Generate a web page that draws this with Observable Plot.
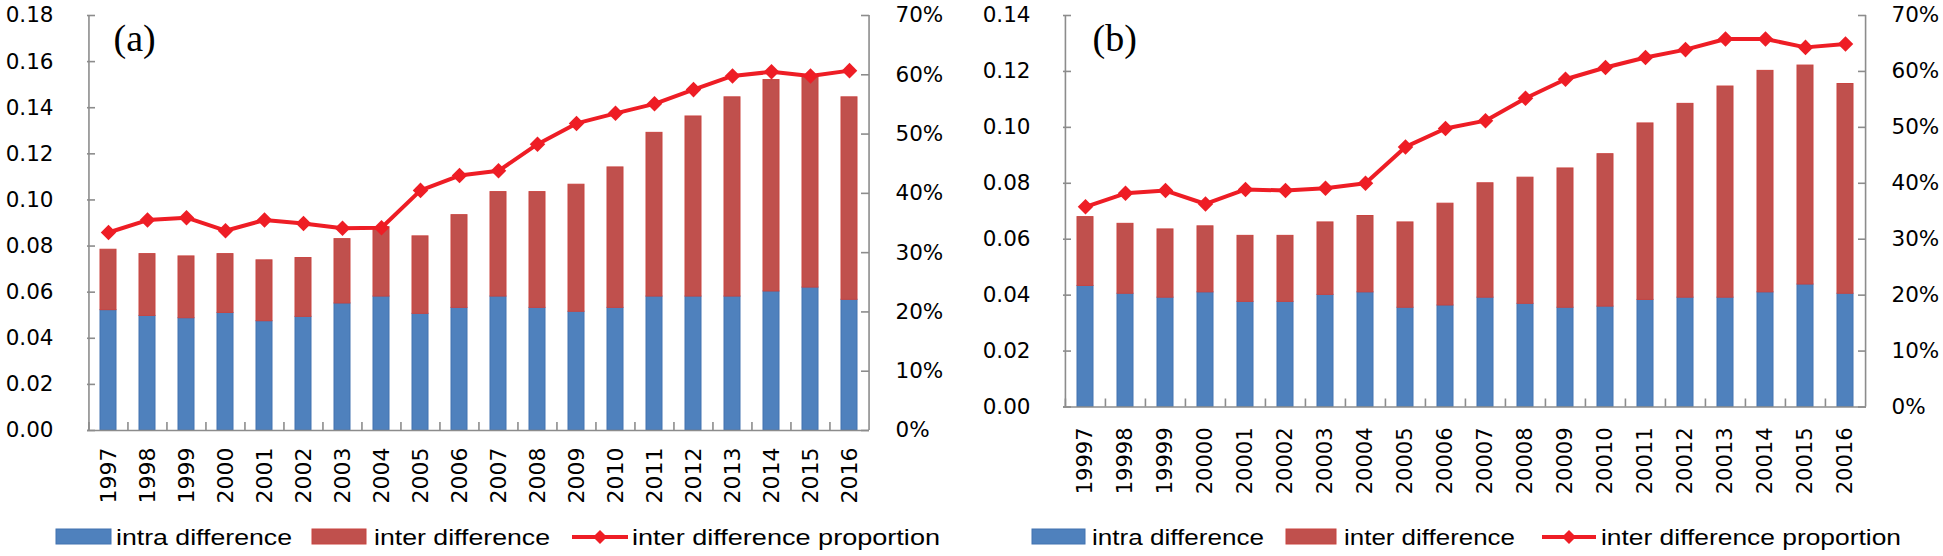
<!DOCTYPE html>
<html><head><meta charset="utf-8">
<script src="https://cdn.jsdelivr.net/npm/d3@7"></script>
<script src="https://cdn.jsdelivr.net/npm/@observablehq/plot@0.6"></script>
<style>
body{margin:0;background:#fff;}
#wrap{position:relative;width:1943px;height:556px;overflow:hidden;background:#fff;}
#wrap svg{position:absolute;top:0;}
</style></head><body><div id="wrap"></div>
<script>
// ---------- data ----------
const yearsA = ["1997","1998","1999","2000","2001","2002","2003","2004","2005","2006","2007","2008","2009","2010","2011","2012","2013","2014","2015","2016"];
const yearsB = ["19997","19998","19999","20000","20001","20002","20003","20004","20005","20006","20007","20008","20009","20010","20011","20012","20013","20014","20015","20016"];

const intraA = [0.0522,0.0497,0.0487,0.0510,0.0474,0.0493,0.0551,0.0581,0.0506,0.0532,0.0581,0.0532,0.0515,0.0532,0.0581,0.0581,0.0581,0.0603,0.0620,0.0567];
const interA = [0.0262,0.0268,0.0268,0.0255,0.0264,0.0255,0.0279,0.0301,0.0336,0.0402,0.0453,0.0502,0.0551,0.0609,0.0710,0.0781,0.0864,0.0917,0.0922,0.0878];
const propA  = [0.334,0.355,0.359,0.337,0.355,0.349,0.341,0.342,0.405,0.430,0.438,0.483,0.518,0.535,0.551,0.575,0.598,0.605,0.598,0.607];

const intraB = [0.0433,0.0405,0.0391,0.0410,0.0376,0.0376,0.0401,0.0410,0.0355,0.0363,0.0391,0.0369,0.0355,0.0359,0.0383,0.0391,0.0391,0.0410,0.0438,0.0405];
const interB = [0.0246,0.0250,0.0244,0.0236,0.0236,0.0236,0.0259,0.0273,0.0305,0.0364,0.0409,0.0451,0.0498,0.0545,0.0631,0.0693,0.0755,0.0792,0.0783,0.0750];
const propB  = [0.358,0.382,0.387,0.363,0.389,0.387,0.391,0.400,0.465,0.498,0.512,0.552,0.586,0.607,0.625,0.639,0.658,0.658,0.643,0.649];

const leftTicksA = [0,0.02,0.04,0.06,0.08,0.10,0.12,0.14,0.16,0.18];
const leftTicksB = [0,0.02,0.04,0.06,0.08,0.10,0.12,0.14];
const rightTicks = [0,0.1,0.2,0.3,0.4,0.5,0.6,0.7];
const seriesNames = ["intra difference","inter difference","inter difference proportion"];
const panelLabels = ["(a)","(b)"];

// ---------- styles ----------
const BLUE = "#4F81BD", BLUE_S = "#4373B0";
const RED = "#C0504D", RED_S = "#C94440";
const LINE = "#EE1D25";
const AXIS = "#8C8C8C";
const TICKFONT = "DejaVu Sans";

function panel({years, intra, inter, prop, leftTicks, ymax, label, width, height, mL, mR, mT, mB, lPad, rPad, xPad, xFont, labDx}) {
  const rows = years.map((year, i) => ({year, intra: intra[i], inter: inter[i], prop: prop[i]}));
  const k = ymax / 0.7;
  const plotW = width - mL - mR;
  const plotH = height - mT - mB;
  const step = plotW / years.length;
  return Plot.plot({
    width, height,
    marginLeft: mL, marginRight: mR, marginTop: mT, marginBottom: mB,
    style: {fontFamily: TICKFONT, fontSize: "21.5px", background: "white", color: "black"},
    x: {domain: years, paddingInner: 0.6, paddingOuter: 0.3, label: null},
    y: {domain: [0, ymax], label: null},
    marks: [
      Plot.barY(rows, {x: "year", y1: 0, y2: "intra", fill: BLUE, stroke: BLUE_S, strokeWidth: 1}),
      Plot.barY(rows, {x: "year", y1: "intra", y2: d => d.intra + d.inter, fill: RED, stroke: RED_S, strokeWidth: 1}),
      // axis lines
      Plot.ruleY([0], {stroke: AXIS, strokeWidth: 1.6}),
      Plot.ruleX([years[0]], {dx: -step / 2, stroke: AXIS, strokeWidth: 1.6}),
      Plot.ruleX([years[years.length - 1]], {dx: step / 2, stroke: AXIS, strokeWidth: 1.6}),
      // inward ticks
      Plot.ruleY(leftTicks, {y: d => d, insetRight: plotW - 8, stroke: AXIS, strokeWidth: 1.6}),
      Plot.ruleY(rightTicks.map(p => p * k), {y: d => d, insetLeft: plotW - 8, stroke: AXIS, strokeWidth: 1.6}),
      Plot.ruleX(years, {x: d => d, dx: -step / 2, insetTop: plotH - 8, stroke: AXIS, strokeWidth: 1.6}),
      // tick labels
      Plot.axisY(leftTicks, {anchor: "left", tickSize: 0, tickPadding: lPad, tickFormat: d => d.toFixed(2), fontSize: 21.5, fontFamily: TICKFONT, label: null}),
      Plot.axisY(rightTicks.map(p => p * k), {anchor: "right", tickSize: 0, tickPadding: rPad, tickFormat: d => Math.round(d / k * 100) + "%", fontSize: 21.5, fontFamily: TICKFONT, label: null}),
      Plot.axisX({tickSize: 0, tickPadding: xPad, tickRotate: -90, fontSize: xFont, fontFamily: TICKFONT, label: null}),
      // proportion line
      Plot.line(rows, {x: "year", y: d => d.prop * k, stroke: LINE, strokeWidth: 4}),
      Plot.dot(rows, {x: "year", y: d => d.prop * k, symbol: "diamond2", r: 7, fill: LINE, stroke: "none"}),
      // panel label
      Plot.text([label], {text: d => d, frameAnchor: "top-left", dx: labDx, dy: 23, textAnchor: "start", lineAnchor: "middle", fontSize: 38, fontFamily: "Liberation Serif", fill: "black"})
    ]
  });
}

const wrap = document.getElementById("wrap");

const svgA = panel({years: yearsA, intra: intraA, inter: interA, prop: propA, leftTicks: leftTicksA, ymax: 0.18, label: panelLabels[0],
  width: 970, height: 510, mL: 87, mR: 101, mT: 15, mB: 80, lPad: 34, rPad: 26, xPad: 17, xFont: 22, labDx: 26});
svgA.style.left = "0px";
wrap.appendChild(svgA);

const svgB = panel({years: yearsB, intra: intraB, inter: interB, prop: propB, leftTicks: leftTicksB, ymax: 0.14, label: panelLabels[1],
  width: 973, height: 510, mL: 93, mR: 77, mT: 15, mB: 103.5, lPad: 33, rPad: 25, xPad: 20.5, xFont: 21, labDx: 29});
svgB.style.left = "970px";
wrap.appendChild(svgB);

// ---------- legends ----------
const leg = d3.select(wrap).append("svg").attr("width", 1943).attr("height", 556).style("left", "0px").style("pointer-events", "none");
function legend(items) {
  const g = leg.append("g").style("font-family", "Liberation Sans, Arial, sans-serif").style("font-size", "22px");
  const [b, r, l] = items;
  g.append("rect").attr("x", b[0]).attr("y", 529).attr("width", b[1]).attr("height", 15).attr("fill", BLUE).attr("stroke", BLUE_S);
  g.append("rect").attr("x", r[0]).attr("y", 529).attr("width", r[1]).attr("height", 15).attr("fill", RED).attr("stroke", RED_S);
  g.append("line").attr("x1", l[0]).attr("x2", l[0] + l[1]).attr("y1", 537).attr("y2", 537).attr("stroke", LINE).attr("stroke-width", 4);
  const cx = l[0] + l[1] / 2;
  g.append("path").attr("d", `M${cx},${537 - 7}L${cx + 7},537L${cx},${537 + 7}L${cx - 7},537Z`).attr("fill", LINE);
  [b, r, l].forEach((it, i) => {
    g.append("text").attr("x", it[2]).attr("y", 545).attr("textLength", it[3]).attr("lengthAdjust", "spacingAndGlyphs").attr("fill", "black").text(seriesNames[i]);
  });
}
legend([[56, 55, 116, 176], [312, 54, 374, 176], [572, 56, 632, 308]]);
legend([[1032, 53, 1092, 172], [1286, 50, 1344, 171], [1542, 54, 1601, 300]]);
</script>
</body></html>
